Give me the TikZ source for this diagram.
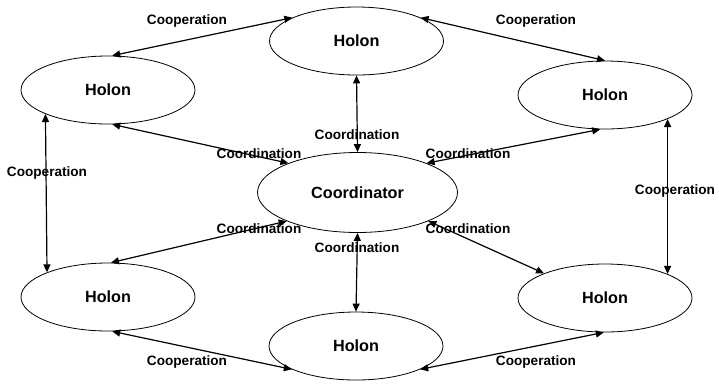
\documentclass[tikz,border=0pt]{standalone}
\usepackage{fontspec}
\setmainfont{Liberation Sans}
\usetikzlibrary{shapes.geometric,arrows.meta}
\begin{document}
\begin{tikzpicture}[x=1pt,y=-1pt,
  holon/.style={draw,ellipse,line width=0.8pt,minimum width=174pt,minimum height=68pt,inner sep=0pt,
    font=\fontsize{16.2}{19}\selectfont\bfseries},
  coord/.style={holon,minimum width=200pt,minimum height=80pt},
  link/.style={line width=1.2pt,{Triangle[length=8pt,width=7pt]}-{Triangle[length=8pt,width=7pt]}},
  lbl/.style={inner sep=0pt,font=\fontsize{13.6}{16}\selectfont\bfseries}]
\useasboundingbox (0,0) rectangle (719,384);
\node[holon] (top) at (356.5,41) {Holon};
\node[holon] (lh) at (108,90) {Holon};
\node[holon] (rh) at (605,95) {Holon};
\node[coord] (co) at (357.5,192.5) {Coordinator};
\node[holon] (blh) at (108,297) {Holon};
\node[holon] (bot) at (356,346) {Holon};
\node[holon] (brh) at (605,298) {Holon};

\draw[link] (top.160) -- (lh.83);
\draw[link] (top.20) -- (rh.90);
\draw[link] (top.south) -- (co.north);
\draw[link] (lh.-83) -- (co.157);
\draw[link] (rh.262.5) -- (co.23.4);
\draw[link] (lh.201.6) -- (blh.158.4);
\draw[link] (rh.-21.2) -- (brh.21.2);
\draw[link] (co.202.7) -- (blh.85);
\draw[link] (co.south) -- (bot.north);
\draw[link] (co.-22.7) -- (brh.158.2);
\draw[link] (blh.-83) -- (bot.200.9);
\draw[link] (brh.268) -- (bot.-20.6);

\node[lbl] (l1) at (187,21) {Cooperation};
\node[lbl] (l2) at (536,21) {Cooperation};
\node[lbl] (l3) at (357,135) {Coordination};
\node[lbl] (l4) at (259,154) {Coordination};
\node[lbl] (l5) at (468,154) {Coordination};
\node[lbl] (l6) at (47,173) {Cooperation};
\node[lbl] (l7) at (675,191) {Cooperation};
\node[lbl] (l8) at (259,229) {Coordination};
\node[lbl] (l9) at (357,248) {Coordination};
\node[lbl] (l10) at (468,229) {Coordination};
\node[lbl] (l11) at (187,362) {Cooperation};
\node[lbl] (l12) at (536,362) {Cooperation};
\end{tikzpicture}
\end{document}
